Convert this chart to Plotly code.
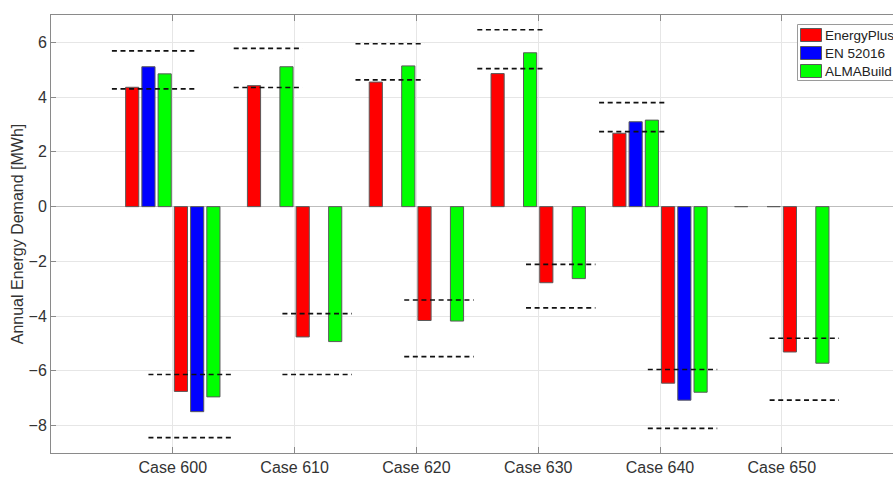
import plotly.graph_objects as go

# Annual heating (+) and cooling (-) demand per BESTEST case, MWh
cases = ["Case 600", "Case 610", "Case 620", "Case 630", "Case 640", "Case 650"]

heat_energyplus = [4.36, 4.42, 4.55, 4.86, 2.68, 0.0]
heat_en52016 = [5.11, None, None, None, 3.10, None]
heat_almabuild = [4.85, 5.11, 5.14, 5.62, 3.16, 0.0]

cool_energyplus = [-6.75, -4.76, -4.16, -2.78, -6.45, -5.31]
cool_en52016 = [-7.49, None, None, None, -7.07, None]
cool_almabuild = [-6.95, -4.93, -4.18, -2.63, -6.78, -5.72]

# Reference range (min / max of the BESTEST programs)
heat_ref_max = [5.69, 5.78, 5.95, 6.46, 3.80, None]
heat_ref_min = [4.30, 4.35, 4.63, 5.04, 2.74, None]
cool_ref_max = [-6.13, -3.91, -3.41, -2.11, -5.95, -4.81]
cool_ref_min = [-8.44, -6.13, -5.48, -3.70, -8.10, -7.07]

tools = ["EnergyPlus", "EN 52016", "ALMABuild"]

# Horizontal extent of the range markers around each case tick
HEAT_SPAN = [(-0.50, 0.20)] + [(-0.50, 0.065)] * 5
COOL_SPAN = [(-0.20, 0.50)] + [(-0.10, 0.47)] * 5

COLORS = ["#ff0000", "#0000ff", "#00ff00"]
EDGE = "#5a5a5a"
FONT = "Liberation Sans, Arial, sans-serif"
GRID = "#e6e6e6"
AXIS = "#8a8a8a"
TEXT = "#333333"

W, H = 893, 478
ML, MR, MT, MB = 51, 0, 15, 25

xpos = list(range(1, len(cases) + 1))

fig = go.Figure()

heat_sets = [heat_energyplus, heat_en52016, heat_almabuild]
cool_sets = [cool_energyplus, cool_en52016, cool_almabuild]
for vals_group in (heat_sets, cool_sets):
    for name, vals, color in zip(tools, vals_group, COLORS):
        fig.add_trace(go.Bar(
            x=xpos, y=vals, name=name, showlegend=False,
            marker=dict(color=color, line=dict(color=EDGE, width=1)),
        ))

# Dashed range markers
lx, ly = [], []
for i, x in enumerate(xpos):
    for vals, span in ((heat_ref_max, HEAT_SPAN), (heat_ref_min, HEAT_SPAN),
                       (cool_ref_max, COOL_SPAN), (cool_ref_min, COOL_SPAN)):
        v = vals[i]
        if v is None:
            continue
        lx += [x + span[i][0], x + span[i][1], None]
        ly += [v, v, None]
fig.add_trace(go.Scatter(
    x=lx, y=ly, mode="lines", showlegend=False, hoverinfo="skip",
    line=dict(color="#111111", width=1.6, dash="5px,3.6px"),
))

# Legend box with wide colour swatches (pixel layout converted to paper units)
pw, ph = W - ML - MR, H - MT - MB
px = lambda p: (p - ML) / pw
py = lambda p: 1 - (p - MT) / ph

shapes = [dict(type="rect", xref="paper", yref="paper",
               x0=px(797.5), x1=px(905), y0=py(80.5), y1=py(24.5),
               line=dict(color="#9a9a9a", width=1), fillcolor="white", layer="above")]
annotations = []
row_y = [35.0, 53.0, 71.0]
for name, color, ry in zip(tools, COLORS, row_y):
    shapes.append(dict(type="rect", xref="paper", yref="paper",
                       x0=px(800.5), x1=px(821.5), y0=py(ry + 6.5), y1=py(ry - 6.5),
                       line=dict(color=EDGE, width=1), fillcolor=color, layer="above"))
    annotations.append(dict(xref="paper", yref="paper", x=px(823), y=py(ry),
                            xanchor="left", yanchor="middle", showarrow=False,
                            text=name, font=dict(family=FONT, size=13.5, color="#222222")))

fig.update_layout(
    width=W, height=H,
    margin=dict(l=ML, r=MR, t=MT, b=MB),
    paper_bgcolor="white", plot_bgcolor="white",
    font=dict(family=FONT, size=16, color=TEXT),
    barmode="group", bargap=0.2, bargroupgap=0.19,
    showlegend=False,
    shapes=shapes, annotations=annotations,
    xaxis=dict(
        range=[0, 6.913], tickvals=xpos, ticktext=cases,
        showgrid=True, gridcolor=GRID, zeroline=False,
        showline=True, linecolor=AXIS, linewidth=1, mirror="ticks",
        ticks="inside", ticklen=6, tickcolor=AXIS,
        tickfont=dict(size=16, color=TEXT),
    ),
    yaxis=dict(
        range=[-9, 7], tickvals=[-8, -6, -4, -2, 0, 2, 4, 6],
        showgrid=True, gridcolor=GRID,
        zeroline=True, zerolinecolor="#bdbdbd", zerolinewidth=1,
        showline=True, linecolor=AXIS, linewidth=1, mirror=False,
        ticks="inside", ticklen=5, tickcolor=AXIS,
        tickfont=dict(size=16, color=TEXT),
        title=dict(text="Annual Energy Demand [MWh]", font=dict(size=16, color=TEXT), standoff=0),
    ),
)

fig.write_html("out.html")
